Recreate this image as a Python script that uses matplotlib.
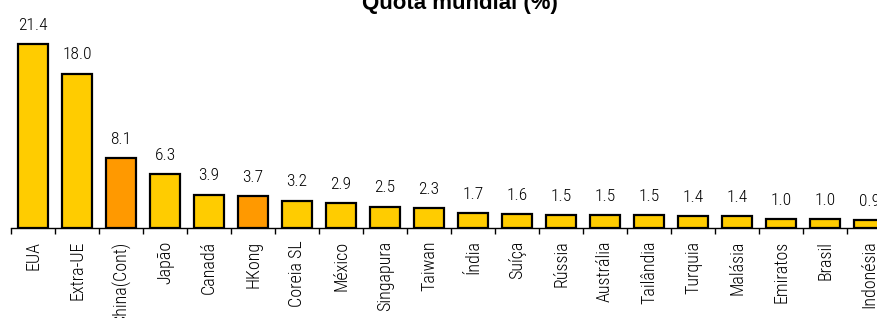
import numpy as np
from matplotlib import pyplot as plt
from matplotlib import font_manager

countries = ["EUA", "Extra-UE", "China(Cont)", "Japão", "Canadá", "HKong", "Coreia SL",
             "México", "Singapura", "Taiwan", "Índia", "Suíça", "Rússia", "Austrália",
             "Tailândia", "Turquia", "Malásia", "Emiratos", "Brasil", "Indonésia"]
quota = [21.4, 18.0, 8.1, 6.3, 3.9, 3.7, 3.2, 2.9, 2.5, 2.3, 1.7, 1.6, 1.5, 1.5,
         1.5, 1.4, 1.4, 1.0, 1.0, 0.9]
highlight = ["China(Cont)", "HKong"]

# narrow font like Arial Narrow, take the first one installed
names = {f.name for f in font_manager.fontManager.ttflist}
narrow = next((n for n in ["Arial Narrow", "Liberation Sans Narrow", "Roboto Condensed",
                           "Archivo Narrow", "Asap Condensed", "DejaVu Sans"] if n in names))

fig = plt.figure(figsize=(8.77, 3.18), dpi=100)
ax = fig.add_axes([11 / 877, 90 / 318, 880 / 877, 206 / 318])

x = np.arange(len(countries))
colors = ["#FF9900" if c in highlight else "#FFCC00" for c in countries]
ax.bar(x, quota, width=0.68, color=colors, edgecolor="black", linewidth=1.6)

for xi, v in zip(x, quota):
    ax.annotate(f"{v:.1f}", (xi, v), xytext=(0, 8), textcoords="offset points",
                ha="center", va="bottom", fontsize=12.5, family=narrow, fontweight="light")

ax.set_xlim(-0.5, len(countries) - 0.5)
ax.set_ylim(0, 24)
ax.set_xticks(x)
ax.set_xticklabels(countries, rotation=90, fontsize=13, family=narrow, fontweight="light")
ax.set_xticks(np.arange(-0.5, len(countries)), minor=True)
ax.tick_params(axis="x", which="major", length=0, pad=9)
ax.tick_params(axis="x", which="minor", length=4, width=1, direction="out")
ax.set_yticks([])
for s in ["top", "right", "left"]:
    ax.spines[s].set_visible(False)
ax.spines["bottom"].set_linewidth(1)

fig.text(460 / 877, 1 - 9 / 318, "Quota mundial (%)", ha="center", va="baseline",
         fontsize=16, fontweight="bold", family="Liberation Sans")

fig.savefig("out.png", dpi=100)
